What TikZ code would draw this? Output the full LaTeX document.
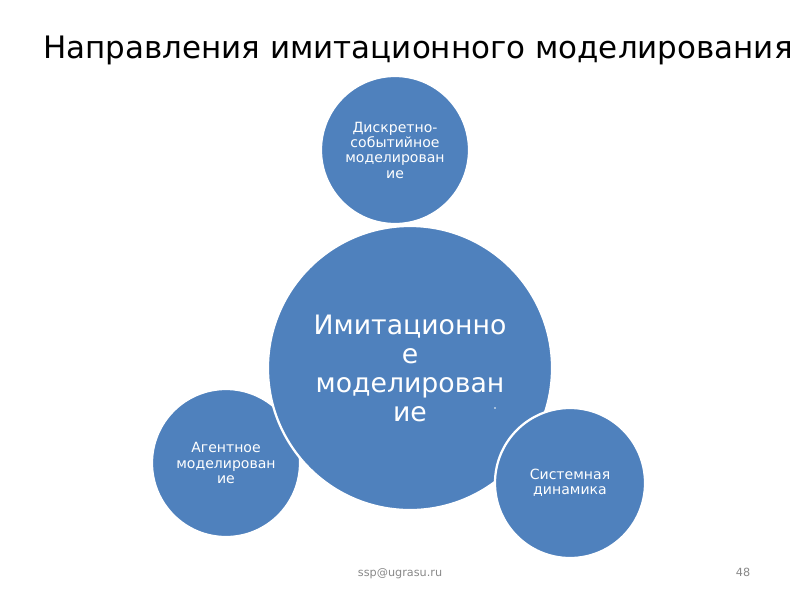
\documentclass[tikz,border=0pt]{standalone}
\usepackage{fontspec}
\setmainfont{DejaVu Sans}
\usetikzlibrary{positioning}
\definecolor{bubbleblue}{HTML}{4F81BD}
\definecolor{footgray}{HTML}{898989}
\tikzset{
  bubble/.style={
    circle, inner sep=0pt,
    fill=bubbleblue, draw=white, line width=1.6pt,
    text=white, align=center,
  },
  branch/.style={
    bubble, minimum size=3.7cm,
    font=\fontsize{10}{10.9}\selectfont,
  },
  core/.style={
    bubble, minimum size=7.1cm,
    font=\fontsize{19}{20.6}\selectfont,
  },
  heading/.style={font=\fontsize{22}{26}\selectfont, text=black, anchor=base},
  footer/.style={font=\fontsize{8}{10}\selectfont, text=footgray, anchor=base},
}

\begin{document}
\begin{tikzpicture}[x=0.025cm,y=-0.025cm]
  \useasboundingbox[fill=white] (0,0) rectangle (800,600);
  \node[heading] (title) at (418,58) {Направления имитационного моделирования};
  % circles, in drawing order
  \node[branch] (agent) at (226,463) {Агентное\\моделирован\\ие};
  \node[branch] (discrete) at (395,150) {Дискретно-\\событийное\\моделирован\\ие};
  \node[core] (sim) at (410,368) {Имитационно\\е\\моделирован\\ие};
  \node[branch,minimum size=3.75cm] (sysdyn) at (570,483) {Системная\\динамика};
  \fill[white] (495,408) circle (0.9);
  % footer
  \node[footer] (mail) at (400,576) {ssp@ugrasu.ru};
  \node[footer] (page) at (743,576) {48};
\end{tikzpicture}
\end{document}
